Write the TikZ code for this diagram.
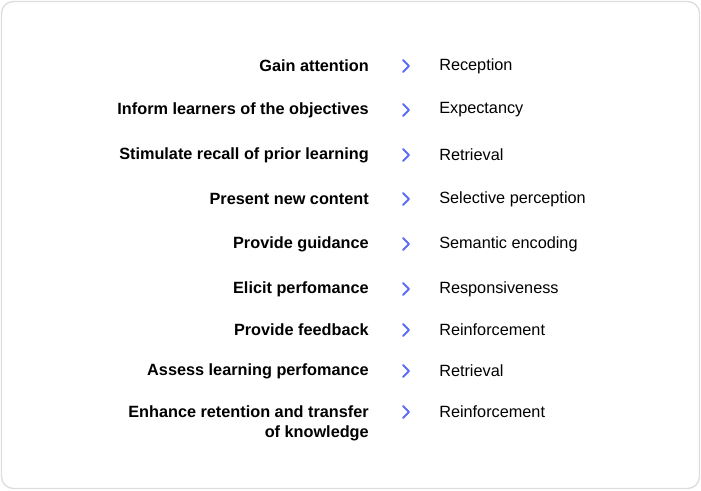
\documentclass[tikz,border=0pt]{standalone}
\usepackage{fontspec}
\setmainfont{Liberation Sans}
\definecolor{chev}{HTML}{5B6CF5}
\definecolor{frame}{HTML}{DDDDDD}
\begin{document}
\begin{tikzpicture}[x=0.75pt,y=-0.75pt,
  lab/.style={anchor=east,font=\fontsize{12.2}{15}\selectfont\bfseries,align=right,inner sep=0pt},
  res/.style={anchor=west,font=\fontsize{12.2}{15}\selectfont,inner sep=0pt},
  chevron/.style={draw=chev,line width=1.5pt,line cap=round,line join=round}]
\useasboundingbox (0,0) rectangle (701,490);
\draw[frame,line width=1pt,rounded corners=9pt] (1.5,1.5) rectangle (699.5,488.5);
\foreach \i/\y/\a/\b in {1/66/Gain attention/Reception,
 2/110/Inform learners of the objectives/Expectancy,
 3/155/Stimulate recall of prior learning/Retrieval,
 4/199/Present new content/Selective perception,
 5/244/Provide guidance/Semantic encoding,
 6/289/Elicit perfomance/Responsiveness,
 7/330/Provide feedback/Reinforcement,
 8/371/Assess learning perfomance/Retrieval}{
 \node[lab] (l\i) at (369,\y) {\a};
 \node[res] (r\i) at (439,\y) {\b};
 \draw[chevron] (403,\y-6) -- (409,\y) -- (403,\y+6);
}
\node[lab] (l9) at (369,423) {Enhance retention and transfer\\of knowledge};
\node[res] (r9) at (439,412) {Reinforcement};
\draw[chevron] (403,406) -- (409,412) -- (403,418);
\end{tikzpicture}
\end{document}
